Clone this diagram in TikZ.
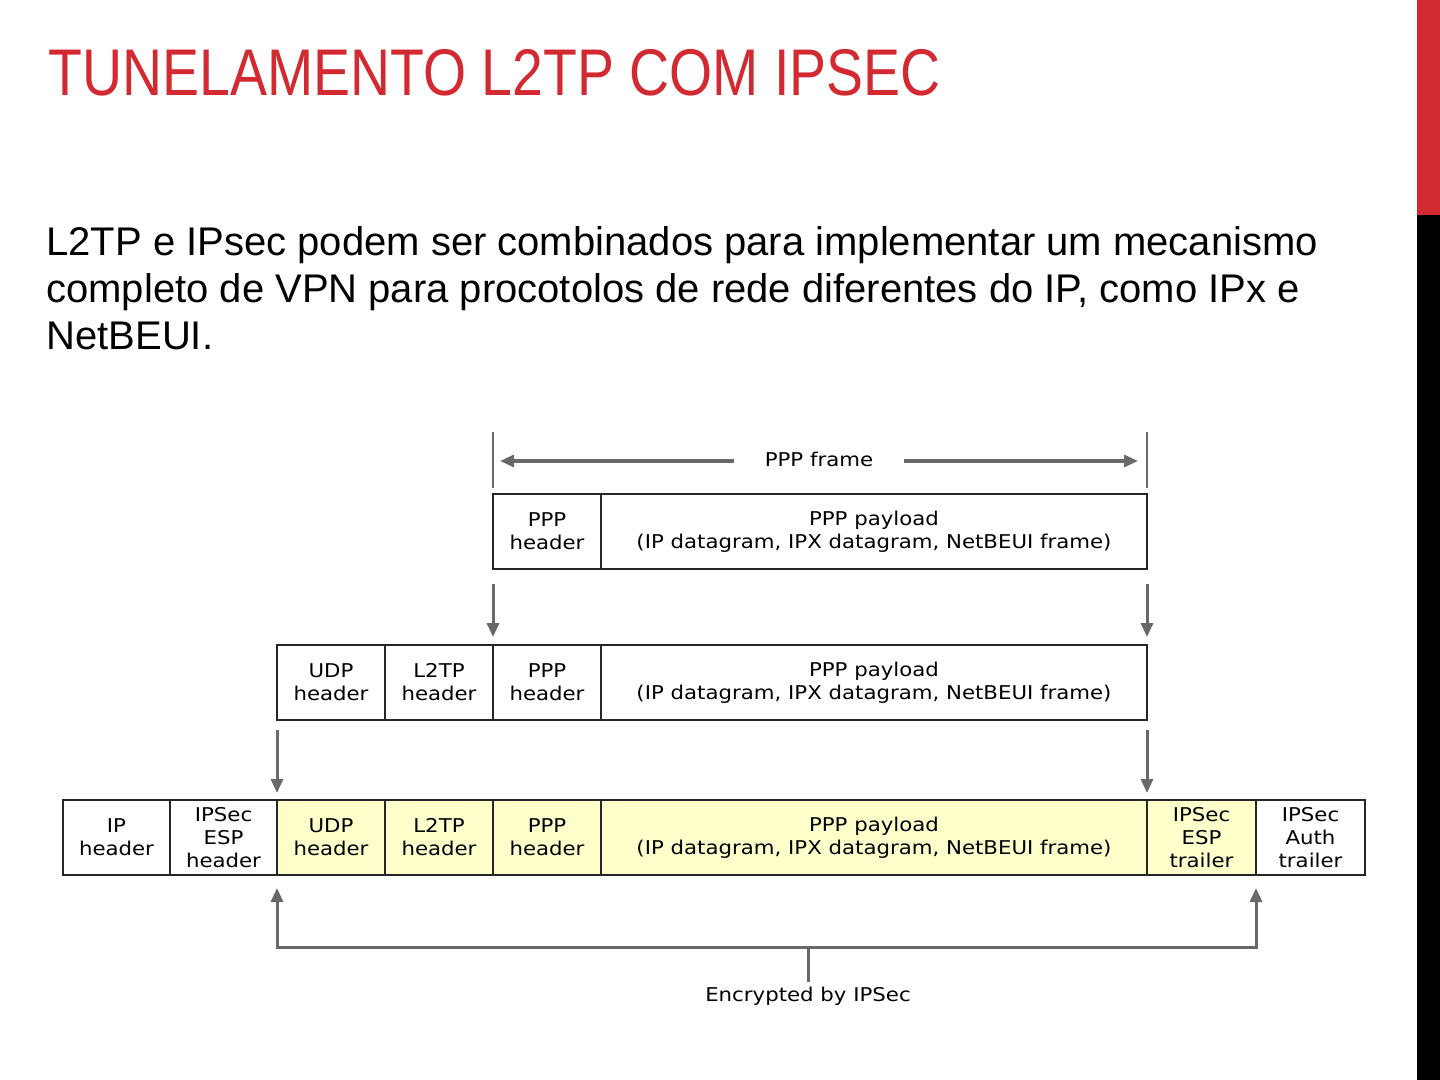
\documentclass[tikz,border=0pt]{standalone}
\usepackage{fontspec}
\setmainfont{Liberation Sans}
\newfontfamily\titlefont[FakeStretch=0.84]{Liberation Sans}
\newfontfamily\diagfont[FakeStretch=1.12]{DejaVu Sans}
\usepackage{tikz}
\usetikzlibrary{positioning,arrows.meta}
\definecolor{slidered}{RGB}{210,42,48}
\definecolor{paleyellow}{RGB}{255,255,204}
\definecolor{arrowgray}{RGB}{105,105,105}

\begin{document}
\begin{tikzpicture}[
    x=0.5pt, y=-0.5pt,
    cell/.style={draw=black!85, line width=0.9pt, minimum height=37.5pt, minimum width=54pt, inner sep=0pt, outer sep=0pt, align=center, font=\diagfont\fontsize{9.5}{11.5}\selectfont},
    hl/.style={fill=paleyellow},
    garrow/.style={draw=arrowgray, line width=1.5pt, -{Triangle[width=6pt,length=7pt]}},
    tick/.style={draw=arrowgray, line width=1pt},
    lbl/.style={inner sep=0pt, font=\diagfont\fontsize{9.5}{11.5}\selectfont}
]
\useasboundingbox (0,0) rectangle (1440,1080);

% Side bar
\fill[slidered] (1417,0) rectangle (1440,215);
\fill[black] (1417,215) rectangle (1440,1080);

% Title
\node[anchor=base west, inner sep=0pt, text=slidered, font=\titlefont\fontsize{33}{40}\selectfont] (title) at (48,96) {TUNELAMENTO L2TP COM IPSEC};

% Intro text
\node[anchor=north west, inner sep=0pt, align=left, font=\fontsize{20}{23.5}\selectfont] (intro) at (46,226) {L2TP e IPsec podem ser combinados para implementar um mecanismo\\completo de VPN para procotolos de rede diferentes do IP, como IPx e\\NetBEUI.};

% PPP frame
\node[cell, anchor=north west] (r1ppp) at (493,494) {PPP\\header};
\node[cell, minimum width=273pt, right=0pt of r1ppp] (r1pay) {PPP payload\\(IP datagram, IPX datagram, NetBEUI frame)};

% L2TP frame
\node[cell, anchor=north west] (r2udp) at (277,645) {UDP\\header};
\node[cell, right=0pt of r2udp] (r2l2tp) {L2TP\\header};
\node[cell, right=0pt of r2l2tp] (r2ppp) {PPP\\header};
\node[cell, minimum width=273pt, right=0pt of r2ppp] (r2pay) {PPP payload\\(IP datagram, IPX datagram, NetBEUI frame)};

% IPSec packet
\node[cell, minimum width=53.5pt, anchor=north west] (r3ip) at (63,800) {IP\\header};
\node[cell, minimum width=53.5pt, right=0pt of r3ip] (r3esph) {IPSec\\ESP\\header};
\node[cell, hl, right=0pt of r3esph] (r3udp) {UDP\\header};
\node[cell, hl, right=0pt of r3udp] (r3l2tp) {L2TP\\header};
\node[cell, hl, right=0pt of r3l2tp] (r3ppp) {PPP\\header};
\node[cell, hl, minimum width=273pt, right=0pt of r3ppp] (r3pay) {PPP payload\\(IP datagram, IPX datagram, NetBEUI frame)};
\node[cell, hl, minimum width=54.5pt, right=0pt of r3pay] (r3espt) {IPSec\\ESP\\trailer};
\node[cell, minimum width=54.5pt, right=0pt of r3espt] (r3auth) {IPSec\\Auth\\trailer};

% Frame width
\node[lbl, inner xsep=15pt] (framelbl) at (819,459) {PPP frame};
\coordinate (fleft) at (500,461);
\coordinate (fright) at (1138,461);
\draw[tick] ([yshift=3pt]r1ppp.north west) -- ++(0,-56);
\draw[tick] ([yshift=3pt]r1pay.north east) -- ++(0,-56);
\draw[garrow] (framelbl.west |- fleft) -- (fleft);
\draw[garrow] (framelbl.east |- fright) -- (fright);

% Arrows
\draw[garrow] ([yshift=-7.5pt]r1ppp.south west) -- ([yshift=4pt]r2ppp.north west);
\draw[garrow] ([yshift=-7.5pt]r1pay.south east) -- ([yshift=4pt]r2pay.north east);
\draw[garrow] ([yshift=-5pt]r2udp.south west) -- ([yshift=3.5pt]r3udp.north west);
\draw[garrow] ([yshift=-5pt]r2pay.south east) -- ([yshift=3.5pt]r3pay.north east);

% Encrypted part
\node[lbl, inner sep=2.5pt, anchor=north] (enc) at (808,982) {Encrypted by IPSec};
\coordinate (encj) at (808,947);
\draw[garrow] (enc.north) -- (encj) -| ([yshift=-6.5pt]r3udp.south west);
\draw[garrow] (enc.north) -- (encj) -| ([yshift=-6.5pt]r3espt.south east);

\end{tikzpicture}
\end{document}
